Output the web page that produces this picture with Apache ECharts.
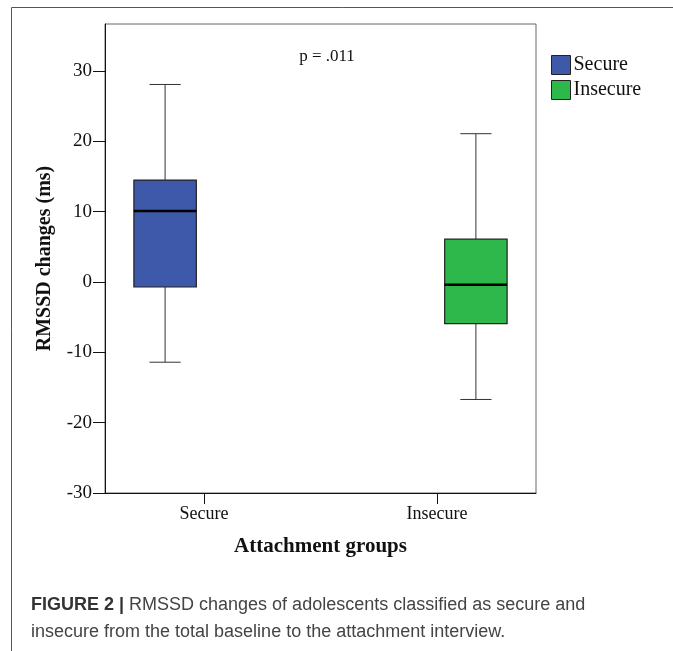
<!DOCTYPE html>
<html>
<head>
<meta charset="utf-8">
<script src="https://cdn.jsdelivr.net/npm/echarts@6/dist/echarts.min.js"></script>
<style>
    html, body { margin: 0; padding: 0; background: #fff; }
    #chart { width: 673px; height: 651px; }
</style>
</head>
<body>
<div id="chart"></div>
<script>
// 数据
const groups = ['Secure', 'Insecure'];
const groupPos = [1, 2];
const whiskerLow = [-11.4, -16.7];
const q1 = [-0.7, -5.9];
const median = [10.1, -0.4];
const q3 = [14.5, 6.1];
const whiskerHigh = [28.1, 21.1];
const yTicks = [-30, -20, -10, 0, 10, 20, 30];
const boxColors = ['#3E59A9', '#2EB84B'];

const serif = "'Liberation Serif', 'Times New Roman', serif";
const sans = "'Liberation Sans', Arial, sans-serif";
const clusterOffset = [-0.167, 0.167];

const chart = echarts.init(document.getElementById('chart'));

// 箱线图绘制
function renderBox(params, api) {
    const x = api.value(0);
    const lo = api.coord([x, api.value(1)]);
    const b1 = api.coord([x, api.value(2)]);
    const md = api.coord([x, api.value(3)]);
    const b3 = api.coord([x, api.value(4)]);
    const hi = api.coord([x, api.value(5)]);
    const w = api.size([0.268, 0])[0];
    const cap = w / 2;
    const line = { stroke: '#333', lineWidth: 1 };
    return {
        type: 'group',
        children: [
            { type: 'line', shape: { x1: hi[0], y1: hi[1], x2: b3[0], y2: b3[1] }, style: line },
            { type: 'line', shape: { x1: b1[0], y1: b1[1], x2: lo[0], y2: lo[1] }, style: line },
            { type: 'line', shape: { x1: hi[0] - cap / 2, y1: hi[1], x2: hi[0] + cap / 2, y2: hi[1] }, style: line },
            { type: 'line', shape: { x1: lo[0] - cap / 2, y1: lo[1], x2: lo[0] + cap / 2, y2: lo[1] }, style: line },
            {
                type: 'rect',
                shape: { x: b3[0] - w / 2, y: b3[1], width: w, height: b1[1] - b3[1] },
                style: { fill: api.visual('color'), stroke: '#222', lineWidth: 1.2 }
            },
            { type: 'line', shape: { x1: md[0] - w / 2, y1: md[1], x2: md[0] + w / 2, y2: md[1] }, style: { stroke: '#000', lineWidth: 2.5 } }
        ]
    };
}

const series = groups.map((name, i) => ({
    name: name,
    type: 'custom',
    renderItem: renderBox,
    itemStyle: { color: boxColors[i] },
    encode: { x: 0, y: [1, 2, 3, 4, 5] },
    data: [[groupPos[i] + clusterOffset[i], whiskerLow[i], q1[i], median[i], q3[i], whiskerHigh[i]]]
}));

chart.setOption({
    animation: false,
    backgroundColor: '#fff',
    grid: {
        left: 105, top: 24, width: 431, height: 469,
        show: true, borderColor: '#666', borderWidth: 1,
        containLabel: false, outerBoundsMode: 'none'
    },
    legend: {
        data: groups,
        orient: 'vertical',
        left: 546, top: 50,
        icon: 'rect',
        itemWidth: 19, itemHeight: 19, itemGap: 5,
        selectedMode: false,
        itemStyle: { borderColor: '#222', borderWidth: 1 },
        textStyle: { fontFamily: serif, fontSize: 20, color: '#111', padding: [0, 0, 0, -2] }
    },
    xAxis: {
        type: 'value',
        min: 0.575, max: 2.425,
        name: 'Attachment groups',
        nameLocation: 'middle',
        nameGap: 43,
        nameTextStyle: { fontFamily: serif, fontSize: 21, fontWeight: 'bold', color: '#111' },
        splitLine: { show: false },
        axisLine: { show: true, onZero: false, lineStyle: { color: '#111', width: 1 } },
        axisTick: { show: true, length: 11, customValues: groupPos, lineStyle: { color: '#111' } },
        axisLabel: {
            customValues: groupPos,
            margin: 12,
            fontFamily: serif, fontSize: 18, color: '#111',
            formatter: (v) => groups[groupPos.indexOf(v)] || ''
        }
    },
    yAxis: {
        type: 'value',
        min: -30, max: 36.7,
        name: 'RMSSD changes (ms)',
        nameLocation: 'middle',
        nameGap: 50,
        nameTextStyle: { fontFamily: serif, fontSize: 20, fontWeight: 'bold', color: '#111' },
        splitLine: { show: false },
        axisLine: { show: true, onZero: false, lineStyle: { color: '#111', width: 1 } },
        axisTick: { show: true, length: 12, customValues: yTicks, lineStyle: { color: '#111' } },
        axisLabel: {
            customValues: yTicks,
            margin: 13,
            fontFamily: serif, fontSize: 19, color: '#111'
        }
    },
    graphic: [
        // 外框
        { type: 'line', shape: { x1: 11.5, y1: 7.5, x2: 673, y2: 7.5 }, style: { stroke: '#555', lineWidth: 1 } },
        { type: 'line', shape: { x1: 11.5, y1: 7.5, x2: 11.5, y2: 651 }, style: { stroke: '#555', lineWidth: 1 } },
        {
            type: 'text', x: 327, y: 57,
            style: { text: 'p = .011', font: '17px ' + serif, fill: '#111', align: 'center', verticalAlign: 'middle' }
        },
        {
            type: 'text', x: 31, y: 605,
            style: {
                text: '{b|FIGURE 2 |} RMSSD changes of adolescents classified as secure and',
                font: '18px ' + sans,
                fill: '#444', verticalAlign: 'middle',
                rich: { b: { fontWeight: 'bold', fill: '#333', fontSize: 18, fontFamily: sans } }
            }
        },
        {
            type: 'text', x: 31, y: 632,
            style: {
                text: 'insecure from the total baseline to the attachment interview.',
                font: '18px ' + sans,
                fill: '#444', verticalAlign: 'middle'
            }
        }
    ],
    series: series
});

window.addEventListener('resize', () => chart.resize());
</script>
</body>
</html>
